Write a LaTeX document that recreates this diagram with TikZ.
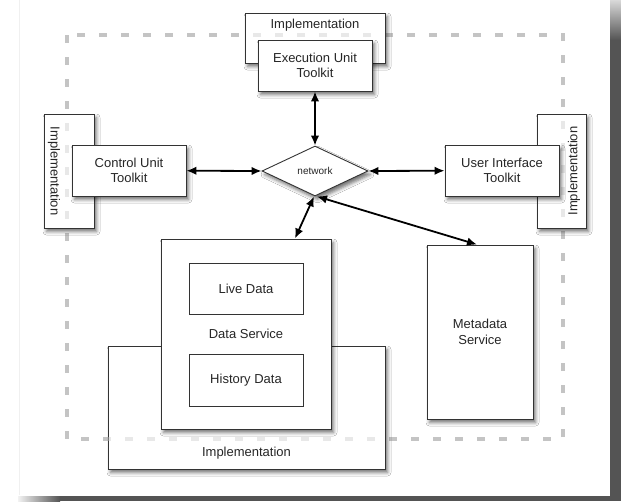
\documentclass[tikz,border=0pt]{standalone}
\usepackage{fontspec}
\setmainfont{Liberation Sans}
\usetikzlibrary{arrows.meta,shapes.geometric,shadows.blur}
\begin{document}
\begin{tikzpicture}[x=1pt,y=-1pt,
  softshadow/.style={blur shadow={shadow xshift=2.5pt, shadow yshift=-3.5pt,
      shadow blur radius=3.5pt, shadow opacity=55}},
  box/.style={draw=black!80, line width=0.9pt, fill=white, inner sep=0pt,
      softshadow},
  plainbox/.style={draw=black!80, line width=0.9pt, fill=white, inner sep=0pt},
  lbl/.style={font=\fontsize{13}{15.5}\selectfont, text=black!85, align=center},
  link/.style={line width=1.8pt, black,
      {Latex[length=10pt,width=8.5pt]}-{Latex[length=10pt,width=8.5pt]}},
  frame/.style={draw=black!23, line width=3.2pt, dash pattern=on 8pt off 14pt},
]
\useasboundingbox (0,0) rectangle (621,501);

% page with its shadowed edges
\fill[white] (0,0) rectangle (621,501);
\draw[black!6, line width=0.6pt] (19,0) -- (19,495);
\fill[black!67] (610,40) rectangle (621,501);
\shade[top color=black!15, bottom color=black!67] (610,0) rectangle (621,40);
\fill[black!67] (60,496) rectangle (621,501);
\shade[left color=black!5, right color=black!67] (18,496) rectangle (60,501);

% dashed system boundary
\coordinate (fr-nw) at (67,35);
\coordinate (fr-se) at (563,439);
\draw[frame] (fr-nw) rectangle (fr-se);

% implementation layers behind the toolkits
\node[box, minimum width=140pt, minimum height=50pt] (impltop) at (315,38) {};
\node[lbl] (impltop-t) at (315,25) {Implementation};
\node[box, minimum width=50pt, minimum height=114pt] (impleft) at (69,171) {};
\node[lbl, rotate=-90] (impleft-t) at (54,171) {Implementation};
\node[box, minimum width=49pt, minimum height=114pt] (impright) at (561.5,171) {};
\node[lbl, rotate=90] (impright-t) at (574,171) {Implementation};
\node[box, minimum width=277pt, minimum height=123pt] (implbot) at (246.5,407.5) {};
\node[lbl] (implbot-t) at (246.5,453) {Implementation};

% boundary seen faintly through the implementation layers
\begin{scope}
  \clip ([shift={(1pt,1pt)}]impltop.south west) rectangle ([shift={(-1pt,-1pt)}]impltop.north east)
        ([shift={(1pt,1pt)}]impleft.south west) rectangle ([shift={(-1pt,-1pt)}]impleft.north east)
        ([shift={(1pt,1pt)}]impright.south west) rectangle ([shift={(-1pt,-1pt)}]impright.north east)
        ([shift={(1pt,1pt)}]implbot.south west) rectangle ([shift={(-1pt,-1pt)}]implbot.north east);
  \draw[frame, draw=black!9] (fr-nw) rectangle (fr-se);
\end{scope}

% toolkits and services
\node[box, lbl, minimum width=114pt, minimum height=51pt] (exec) at (315,65.5) {Execution Unit\\Toolkit};
\node[box, lbl, minimum width=114pt, minimum height=51pt] (ctrl) at (129,170.5) {Control Unit\\Toolkit};
\node[box, lbl, minimum width=114pt, minimum height=51pt] (ui) at (502,170.5) {User Interface\\Toolkit};
\node[box, diamond, aspect=2, minimum width=106pt, minimum height=50pt,
      font=\fontsize{10}{12}\selectfont, text=black!85] (net) at (315,171) {network};

\node[box, lbl, minimum width=170pt, minimum height=190pt] (data) at (246,334) {Data Service};
\node[plainbox, lbl, minimum width=114pt, minimum height=51pt] (live) at (246,288.5) {Live Data};
\node[plainbox, lbl, minimum width=114pt, minimum height=52pt] (hist) at (246,380) {History Data};
\node[box, lbl, minimum width=106pt, minimum height=174pt] (meta) at (480,332) {Metadata\\Service};

% connections through the network
\draw[link] (exec) -- (net.north);
\draw[link] (ctrl) -- (net.west);
\draw[link] (net.east) -- (ui);
\draw[link] ([xshift=-1pt]net.south) -- ([xshift=49pt]data.north);
\draw[link] ([xshift=2pt]net.south) -- ([xshift=-3pt]meta.north);
\end{tikzpicture}
\end{document}
